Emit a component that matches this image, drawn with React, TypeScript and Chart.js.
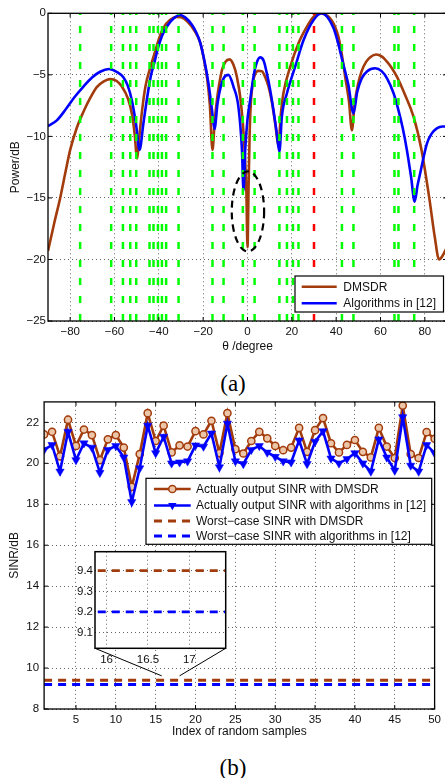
import React, { useEffect, useRef } from 'react';
import { Chart, registerables } from 'chart.js';

Chart.register(...registerables);

const SANS = "'Liberation Sans', Arial, Helvetica, sans-serif";
const SERIF = "'Liberation Serif', 'Times New Roman', serif";
const BROWN = '#a33c0c';
const BLUE = '#0000ff';
const GREEN = '#00ff00';
const RED = '#ff0000';
const GRID = 'rgba(0,0,0,0.6)';
const TEXT = '#111';
Chart.defaults.font.family = SANS;

// ---------------- (a) beam pattern ----------------
const angleTicks = [-80, -60, -40, -20, 0, 20, 40, 60, 80];
const powerTicks = [-25, -20, -15, -10, -5, 0];

const dmsdrTheta = [-90, -87, -84.5, -82, -80, -77, -74, -71, -68, -65, -62, -59, -56.5, -54, -52, -50.8, -49.9, -48.8, -47.5, -46, -44, -42, -40, -38, -35, -32, -30, -27, -24, -21.3, -19.5, -18.2, -17, -15.8, -14.8, -13.8, -11.5, -10, -8.1, -6.3, -4.8, -3, -1.5, -0.5, 0, 0.5, 1, 1.6, 2.5, 3.5, 5, 6.5, 8, 9.5, 11, 12.5, 14, 15, 16.2, 19.3, 23, 26.8, 29.5, 32, 35, 37, 39, 41, 42.6, 44.1, 45.8, 47.1, 48.3, 49.8, 51.5, 53.5, 55.5, 58, 60.5, 63, 65.3, 67.4, 71, 74.9, 78.5, 82, 84.5, 86.4, 88, 90];
const dmsdrPower = [-19.3, -16.9, -15, -12.8, -11.1, -9.3, -8.0, -6.9, -6.0, -5.55, -5.35, -5.5, -6.0, -6.9, -8.3, -10, -11.8, -10, -7.8, -5.9, -4.5, -3.3, -2.1, -1.2, -0.55, -0.3, -0.32, -0.7, -1.4, -2.4, -3.9, -5.3, -7.4, -11.1, -8.8, -7.05, -4.6, -3.95, -3.74, -4.2, -5.15, -7.2, -10.5, -14.5, -19, -14, -9.5, -7.0, -5.6, -4.9, -4.68, -4.7, -5.2, -5.97, -7.2, -8.94, -10.7, -8.3, -6.5, -4.34, -2.44, -1.09, -0.35, 0, -0.1, -0.35, -0.9, -1.9, -3.4, -5.2, -7.2, -9.5, -7.4, -5.8, -4.7, -3.95, -3.55, -3.35, -3.5, -3.95, -4.5, -5.15, -6.6, -8.4, -11.1, -15, -18.2, -20, -19.7, -19.0];

const algTheta = [-90, -86, -82, -78, -74, -70, -66.5, -62.5, -59, -56, -54, -52.2, -50.3, -48.7, -47, -45.4, -43.5, -42, -40.5, -38.5, -36.4, -33.5, -30.5, -28, -25, -23, -21.3, -19.5, -17.6, -16, -14.9, -13.5, -12, -10.5, -8.6, -6.3, -4.1, -2.5, -1.8, -1, 0, 1.2, 2.7, 4, 5.7, 7.3, 8.75, 10.2, 11.7, 13.1, 14.4, 15.5, 17.8, 21.5, 25.3, 29.8, 33.4, 36, 38.8, 41, 43, 45.5, 47.8, 49.5, 51.5, 54, 57.6, 60.5, 63, 65.9, 68, 70, 71.9, 73.8, 75.4, 76.7, 77.9, 80.9, 83, 85.4, 88, 90];
const algPower = [-9.16, -8.7, -7.8, -6.8, -5.95, -5.2, -4.75, -4.53, -4.75, -5.2, -5.9, -7.05, -9.0, -11.1, -9.0, -7.0, -5.0, -4.0, -2.9, -1.8, -1.09, -0.45, -0.14, -0.35, -0.95, -1.6, -2.4, -3.8, -5.7, -7.9, -9.4, -7.3, -5.9, -5.2, -5.0, -5.97, -7.6, -11.1, -14.4, -11, -8.6, -7.05, -5.15, -4.1, -3.58, -3.85, -4.9, -6.2, -7.86, -9.6, -11.25, -8.4, -6.5, -4.34, -2.17, -0.54, 0, -0.3, -1.2, -2.5, -4.0, -5.8, -8.13, -6.4, -5.3, -4.7, -4.47, -4.7, -5.3, -6.5, -7.8, -9.3, -11.1, -13.3, -15.3, -14, -13, -10.6, -9.8, -9.35, -9.2, -9.2];

const interferenceAngles = [-75.5, -61.5, -56.2, -52.9, -50.2, -44.2, -42.4, -40.4, -38.6, -36.7, -31.1, -15.8, -10.8, -2.1, 3.2, 14.4, 17.8, 20.5, 23, 42.6, 47.8, 66.3, 68.1, 75.2];
const desiredAngles = [30];
const nullMark = { theta: 0.2, power: -16.1, thetaRadius: 7.3, powerRadius: 3.25 };
const seriesLabelsA = ['DMSDR', 'Algorithms in [12]'];

// ---------------- (b) SINR ----------------
const sampleIndex = Array.from({ length: 50 }, (_, i) => i + 1);
const sampleTicks = [5, 10, 15, 20, 25, 30, 35, 40, 45, 50];
const sinrTicks = [8, 10, 12, 14, 16, 18, 20, 22];
const sinrDmsdr = [21.41, 21.54, 20.34, 22.13, 20.85, 21.65, 21.38, 20.16, 21.17, 21.38, 20.77, 18.85, 20.45, 22.45, 21.09, 21.84, 20.53, 20.88, 20.82, 21.57, 21.41, 22.08, 20.5, 22.45, 20.69, 20.48, 21.09, 21.54, 21.22, 20.85, 20.64, 20.77, 21.73, 20.56, 21.62, 22.21, 20.98, 20.53, 20.9, 21.14, 20.56, 20.29, 21.73, 20.82, 20.26, 22.82, 20.45, 20.26, 21.52, 21.2];
const sinrAlg = [20.66, 20.9, 19.6, 21.54, 20.16, 20.98, 20.77, 19.54, 20.66, 20.85, 20.29, 18.11, 19.76, 21.84, 20.5, 21.3, 20.0, 20.05, 20.1, 20.88, 20.82, 21.46, 19.81, 21.94, 20.1, 19.97, 20.66, 20.85, 20.53, 20.32, 20.1, 20.05, 21.12, 19.97, 21.06, 21.57, 20.24, 20.0, 20.21, 20.5, 20.0, 19.6, 21.17, 20.29, 19.65, 22.26, 19.89, 19.6, 20.9, 20.5];
const worstDmsdr = 9.4;
const worstAlg = 9.2;
const insetXTicks = [16, 16.5, 17];
const insetYTicks = [9.1, 9.2, 9.3, 9.4];
const insetRange = { xMin: 15.86, xMax: 17.44, yMin: 9.024, yMax: 9.492 };
const zoomSpan = { from: 15.75, to: 18, level: 9.62 };
const seriesLabelsB = [
  'Actually output SINR with DMSDR',
  'Actually output SINR with algorithms in [12]',
  'Worst\u2212case SINR with DMSDR',
  'Worst\u2212case SINR with algorithms in [12]',
];

// ---------------- layout ----------------
const TOP = { w: 460, h: 365, padTop: 13.3, padRight: 13, axisW: 48, axisH: 44 };
const BOT = { top: 390, w: 445, h: 360, padTop: 10, padRight: 10, axisW: 44.1, axisH: 41 };
const INSET = { left: 60, top: 540, w: 180, h: 130, axisW: 35, axisH: 21.7, padTop: 11.7, padRight: 14.3 };

const fmt = (v: number) => (v < 0 ? '\u2212' + Math.abs(v) : String(v));
const ticksFrom = (arr: number[]) => (s: any) => {
  s.ticks = arr.map((v) => ({ value: v }));
};

function framePlugin(inner: number, lw: number) {
  return {
    id: 'frame',
    afterDatasetsDraw(chart: any) {
      const { ctx, chartArea: a, scales } = chart;
      ctx.save();
      ctx.setLineDash([]);
      ctx.strokeStyle = '#000';
      ctx.lineWidth = lw;
      ctx.strokeRect(a.left, a.top, a.right - a.left, a.bottom - a.top);
      if (inner > 0) {
        ctx.lineWidth = 1;
        ctx.beginPath();
        scales.x.ticks.forEach((t: any) => {
          const x = scales.x.getPixelForValue(t.value);
          ctx.moveTo(x, a.bottom);
          ctx.lineTo(x, a.bottom - inner);
          ctx.moveTo(x, a.top);
          ctx.lineTo(x, a.top + inner);
        });
        scales.y.ticks.forEach((t: any) => {
          const y = scales.y.getPixelForValue(t.value);
          ctx.moveTo(a.left, y);
          ctx.lineTo(a.left + inner, y);
          ctx.moveTo(a.right, y);
          ctx.lineTo(a.right - inner, y);
        });
        ctx.stroke();
      }
      ctx.restore();
    },
  };
}

type Entry = { label: string; color: string; width: number; dash?: number[]; marker?: 'circle' | 'triangle'; fill?: string };

function drawLegend(ctx: CanvasRenderingContext2D, box: { x: number; y: number; w: number; h: number }, entries: Entry[], rows: number[], sample: [number, number], textX: number, size: number) {
  ctx.save();
  ctx.fillStyle = '#fff';
  ctx.fillRect(box.x, box.y, box.w, box.h);
  ctx.strokeStyle = '#000';
  ctx.lineWidth = 1.2;
  ctx.setLineDash([]);
  ctx.strokeRect(box.x, box.y, box.w, box.h);
  entries.forEach((e, i) => {
    const y = rows[i];
    ctx.beginPath();
    ctx.setLineDash(e.dash || []);
    ctx.strokeStyle = e.color;
    ctx.lineWidth = e.width;
    ctx.moveTo(sample[0], y);
    ctx.lineTo(sample[1], y);
    ctx.stroke();
    ctx.setLineDash([]);
    const cx = (sample[0] + sample[1]) / 2;
    if (e.marker === 'circle') {
      ctx.beginPath();
      ctx.arc(cx, y, 3.6, 0, Math.PI * 2);
      ctx.fillStyle = e.fill || '#fff';
      ctx.fill();
      ctx.lineWidth = 1.5;
      ctx.stroke();
    } else if (e.marker === 'triangle') {
      const r = 4.8;
      ctx.beginPath();
      ctx.moveTo(cx, y + r);
      ctx.lineTo(cx - 0.866 * r, y - 0.5 * r);
      ctx.lineTo(cx + 0.866 * r, y - 0.5 * r);
      ctx.closePath();
      ctx.fillStyle = e.color;
      ctx.fill();
    }
    ctx.fillStyle = TEXT;
    ctx.font = `${size}px ${SANS}`;
    ctx.textBaseline = 'middle';
    ctx.textAlign = 'left';
    ctx.fillText(e.label, textX, y + 0.5);
  });
  ctx.restore();
}

const tickFont = { family: SANS, size: 11.5 };
const titleFont = { family: SANS, size: 12 };

function makeTop(canvas: HTMLCanvasElement) {
  const vLine = (a: number, color: string) => ({
    data: [
      { x: a, y: powerTicks[0] },
      { x: a, y: powerTicks[powerTicks.length - 1] },
    ],
    borderColor: color,
    borderWidth: 2.5,
    borderDash: [7, 11],
    pointRadius: 0,
  });
  const ellipsePlugin = {
    id: 'ellipse',
    afterDatasetsDraw(chart: any) {
      const { ctx, scales } = chart;
      const cx = scales.x.getPixelForValue(nullMark.theta);
      const cy = scales.y.getPixelForValue(nullMark.power);
      const rx = Math.abs(scales.x.getPixelForValue(nullMark.theta + nullMark.thetaRadius) - cx);
      const ry = Math.abs(scales.y.getPixelForValue(nullMark.power + nullMark.powerRadius) - cy);
      ctx.save();
      ctx.strokeStyle = '#000';
      ctx.lineWidth = 2.2;
      ctx.setLineDash([7, 5]);
      ctx.beginPath();
      ctx.ellipse(cx, cy, rx, ry, 0, 0, Math.PI * 2);
      ctx.stroke();
      ctx.restore();
    },
  };
  const legendPlugin = {
    id: 'legendA',
    afterDraw(chart: any) {
      drawLegend(
        chart.ctx,
        { x: 295, y: 276, w: 148.5, h: 36 },
        [
          { label: seriesLabelsA[0], color: BROWN, width: 2.5 },
          { label: seriesLabelsA[1], color: BLUE, width: 2.5 },
        ],
        [286.7, 303.3],
        [301.7, 336.7],
        343.3,
        12
      );
    },
  };
  return new Chart(canvas, {
    type: 'line',
    data: {
      datasets: [
        ...interferenceAngles.map((a) => vLine(a, GREEN)),
        ...desiredAngles.map((a) => vLine(a, RED)),
        {
          label: seriesLabelsA[1],
          data: algTheta.map((t, i) => ({ x: t, y: algPower[i] })),
          borderColor: BLUE,
          borderWidth: 2.6,
          pointRadius: 0,
          cubicInterpolationMode: 'monotone',
        },
        {
          label: seriesLabelsA[0],
          data: dmsdrTheta.map((t, i) => ({ x: t, y: dmsdrPower[i] })),
          borderColor: BROWN,
          borderWidth: 2.6,
          pointRadius: 0,
          cubicInterpolationMode: 'monotone',
        },
      ],
    } as any,
    options: {
      animation: false,
      responsive: false,
      devicePixelRatio: 1,
      events: [],
      layout: { padding: { left: 0, top: TOP.padTop, right: TOP.padRight, bottom: 0 } },
      plugins: { legend: { display: false }, tooltip: { enabled: false } },
      scales: {
        x: {
          type: 'linear',
          min: -90,
          max: 90,
          afterBuildTicks: ticksFrom(angleTicks),
          afterFit: (s: any) => {
            s.height = TOP.axisH;
          },
          ticks: { autoSkip: false, maxRotation: 0, padding: 4, color: TEXT, font: tickFont, callback: (v: any) => fmt(Number(v)) },
          grid: { color: GRID, lineWidth: 1, drawTicks: false },
          border: { display: false, dash: [1, 3] },
          title: { display: true, text: '\u03b8 /degree', color: TEXT, font: titleFont, padding: { top: 0, bottom: 10.9 } },
        },
        y: {
          type: 'linear',
          min: -25,
          max: 0,
          afterBuildTicks: ticksFrom(powerTicks),
          afterFit: (s: any) => {
            s.width = TOP.axisW;
          },
          ticks: { autoSkip: false, padding: 2, color: TEXT, font: tickFont, callback: (v: any) => fmt(Number(v)) },
          grid: { color: GRID, lineWidth: 1, drawTicks: false },
          border: { display: false, dash: [1, 3] },
          title: { display: true, text: 'Power/dB', color: TEXT, font: titleFont, padding: { top: 8.4, bottom: 0 } },
        },
      },
    } as any,
    plugins: [ellipsePlugin, framePlugin(4, 1.3), legendPlugin],
  });
}

function makeBottom(canvas: HTMLCanvasElement) {
  const connectorPlugin = {
    id: 'connector',
    afterDatasetsDraw(chart: any) {
      const { ctx, scales } = chart;
      const boxBottom = INSET.top + INSET.h - INSET.axisH - BOT.top;
      const boxLeft = INSET.left + INSET.axisW;
      const boxRight = INSET.left + INSET.w - INSET.padRight;
      const y = scales.y.getPixelForValue(zoomSpan.level);
      ctx.save();
      ctx.strokeStyle = '#000';
      ctx.lineWidth = 1;
      ctx.setLineDash([]);
      ctx.beginPath();
      ctx.moveTo(boxLeft, boxBottom);
      ctx.lineTo(scales.x.getPixelForValue(zoomSpan.from), y);
      ctx.moveTo(boxRight, boxBottom);
      ctx.lineTo(scales.x.getPixelForValue(zoomSpan.to), y);
      ctx.stroke();
      ctx.restore();
    },
  };
  const legendPlugin = {
    id: 'legendB',
    afterDraw(chart: any) {
      drawLegend(
        chart.ctx,
        { x: 146, y: 88.3, w: 285.7, h: 66 },
        [
          { label: seriesLabelsB[0], color: BROWN, width: 2.6, marker: 'circle', fill: '#ecc6a8' },
          { label: seriesLabelsB[1], color: BLUE, width: 2.6, marker: 'triangle' },
          { label: seriesLabelsB[2], color: BROWN, width: 2.8, dash: [8, 6] },
          { label: seriesLabelsB[3], color: BLUE, width: 2.8, dash: [8, 6] },
        ],
        [99, 115.5, 131, 146],
        [154, 190.7],
        196,
        12
      );
    },
  };
  const first = sampleIndex[0];
  const last = sampleIndex[sampleIndex.length - 1];
  return new Chart(canvas, {
    type: 'line',
    data: {
      datasets: [
        {
          label: seriesLabelsB[3],
          data: [
            { x: first, y: worstAlg },
            { x: last, y: worstAlg },
          ],
          borderColor: BLUE,
          borderWidth: 3,
          borderDash: [8, 6],
          pointRadius: 0,
        },
        {
          label: seriesLabelsB[2],
          data: [
            { x: first, y: worstDmsdr },
            { x: last, y: worstDmsdr },
          ],
          borderColor: BROWN,
          borderWidth: 3,
          borderDash: [8, 6],
          pointRadius: 0,
        },
        {
          label: seriesLabelsB[1],
          data: sampleIndex.map((x, i) => ({ x, y: sinrAlg[i] })),
          borderColor: BLUE,
          borderWidth: 2.6,
          pointStyle: 'triangle',
          rotation: 180,
          pointRadius: 4.8,
          pointBorderWidth: 0.5,
          pointBackgroundColor: BLUE,
          pointBorderColor: BLUE,
        },
        {
          label: seriesLabelsB[0],
          data: sampleIndex.map((x, i) => ({ x, y: sinrDmsdr[i] })),
          borderColor: BROWN,
          borderWidth: 2.6,
          pointStyle: 'circle',
          pointRadius: 3.6,
          pointBorderWidth: 1.5,
          pointBackgroundColor: '#ecc6a8',
          pointBorderColor: BROWN,
        },
      ],
    } as any,
    options: {
      animation: false,
      responsive: false,
      devicePixelRatio: 1,
      events: [],
      layout: { padding: { left: 0, top: BOT.padTop, right: BOT.padRight, bottom: 0 } },
      plugins: { legend: { display: false }, tooltip: { enabled: false } },
      scales: {
        x: {
          type: 'linear',
          min: first,
          max: last,
          afterBuildTicks: ticksFrom(sampleTicks),
          afterFit: (s: any) => {
            s.height = BOT.axisH;
          },
          ticks: { autoSkip: false, maxRotation: 0, padding: 4, color: TEXT, font: tickFont, callback: (v: any) => fmt(Number(v)) },
          grid: { color: GRID, lineWidth: 1, drawTicks: false },
          border: { display: false, dash: [1, 3] },
          title: { display: true, text: 'Index of random samples', color: TEXT, font: titleFont, padding: { top: 0, bottom: 10.7 } },
        },
        y: {
          type: 'linear',
          min: 8,
          max: 23,
          afterBuildTicks: ticksFrom(sinrTicks),
          afterFit: (s: any) => {
            s.width = BOT.axisW;
          },
          ticks: { autoSkip: false, padding: 5, color: TEXT, font: tickFont, callback: (v: any) => fmt(Number(v)) },
          grid: { color: GRID, lineWidth: 1, drawTicks: false },
          border: { display: false, dash: [1, 3] },
          title: { display: true, text: 'SINR/dB', color: TEXT, font: titleFont, padding: { top: 7.5, bottom: 0 } },
        },
      },
    } as any,
    plugins: [connectorPlugin, framePlugin(4, 1.3), legendPlugin],
  });
}

function makeInset(canvas: HTMLCanvasElement) {
  const whiteBg = {
    id: 'whiteBg',
    beforeDraw(chart: any) {
      const { ctx, chartArea: a } = chart;
      ctx.save();
      ctx.fillStyle = '#fff';
      ctx.fillRect(a.left, a.top, a.right - a.left, a.bottom - a.top);
      ctx.restore();
    },
  };
  const first = sampleIndex[0];
  const last = sampleIndex[sampleIndex.length - 1];
  return new Chart(canvas, {
    type: 'line',
    data: {
      datasets: [
        {
          data: [
            { x: first, y: worstDmsdr },
            { x: last, y: worstDmsdr },
          ],
          borderColor: BROWN,
          borderWidth: 2.8,
          borderDash: [8, 6],
          pointRadius: 0,
        },
        {
          data: [
            { x: first, y: worstAlg },
            { x: last, y: worstAlg },
          ],
          borderColor: BLUE,
          borderWidth: 2.8,
          borderDash: [8, 6],
          pointRadius: 0,
        },
      ],
    } as any,
    options: {
      animation: false,
      responsive: false,
      devicePixelRatio: 1,
      events: [],
      layout: { padding: { left: 0, top: INSET.padTop, right: INSET.padRight, bottom: 0 } },
      plugins: { legend: { display: false }, tooltip: { enabled: false } },
      scales: {
        x: {
          type: 'linear',
          min: insetRange.xMin,
          max: insetRange.xMax,
          afterBuildTicks: ticksFrom(insetXTicks),
          afterFit: (s: any) => {
            s.height = INSET.axisH;
          },
          ticks: { autoSkip: false, maxRotation: 0, padding: 5, color: TEXT, font: tickFont, callback: (v: any) => String(v) },
          grid: { color: GRID, lineWidth: 1, drawTicks: false },
          border: { display: false, dash: [1, 3] },
        },
        y: {
          type: 'linear',
          min: insetRange.yMin,
          max: insetRange.yMax,
          afterBuildTicks: ticksFrom(insetYTicks),
          afterFit: (s: any) => {
            s.width = INSET.axisW;
          },
          ticks: { autoSkip: false, padding: 2, color: TEXT, font: tickFont, callback: (v: any) => Number(v).toFixed(1) },
          grid: { color: GRID, lineWidth: 1, drawTicks: false },
          border: { display: false, dash: [1, 3] },
        },
      },
    } as any,
    plugins: [whiteBg, framePlugin(0, 1.5)],
  });
}

export default function App() {
  const topRef = useRef<HTMLCanvasElement>(null);
  const botRef = useRef<HTMLCanvasElement>(null);
  const insetRef = useRef<HTMLCanvasElement>(null);

  useEffect(() => {
    const charts: Chart[] = [];
    if (topRef.current) charts.push(makeTop(topRef.current));
    if (botRef.current) charts.push(makeBottom(botRef.current));
    if (insetRef.current) charts.push(makeInset(insetRef.current));
    return () => charts.forEach((c) => c.destroy());
  }, []);

  const captionStyle: React.CSSProperties = {
    position: 'absolute',
    left: 233,
    transform: 'translate(-50%, -50%)',
    font: `23px ${SERIF}`,
    lineHeight: 1,
    whiteSpace: 'nowrap',
    color: '#000',
  };

  return (
    <div style={{ position: 'absolute', left: 0, top: 0, width: 445, height: 778, overflow: 'hidden', background: '#fff' }}>
      <canvas ref={topRef} width={TOP.w} height={TOP.h} style={{ position: 'absolute', left: 0, top: 0, width: TOP.w, height: TOP.h }} />
      <div style={{ ...captionStyle, top: 383 }}>(a)</div>
      <canvas ref={botRef} width={BOT.w} height={BOT.h} style={{ position: 'absolute', left: 0, top: BOT.top, width: BOT.w, height: BOT.h }} />
      <canvas ref={insetRef} width={INSET.w} height={INSET.h} style={{ position: 'absolute', left: INSET.left, top: INSET.top, width: INSET.w, height: INSET.h }} />
      <div style={{ ...captionStyle, top: 767 }}>(b)</div>
    </div>
  );
}
